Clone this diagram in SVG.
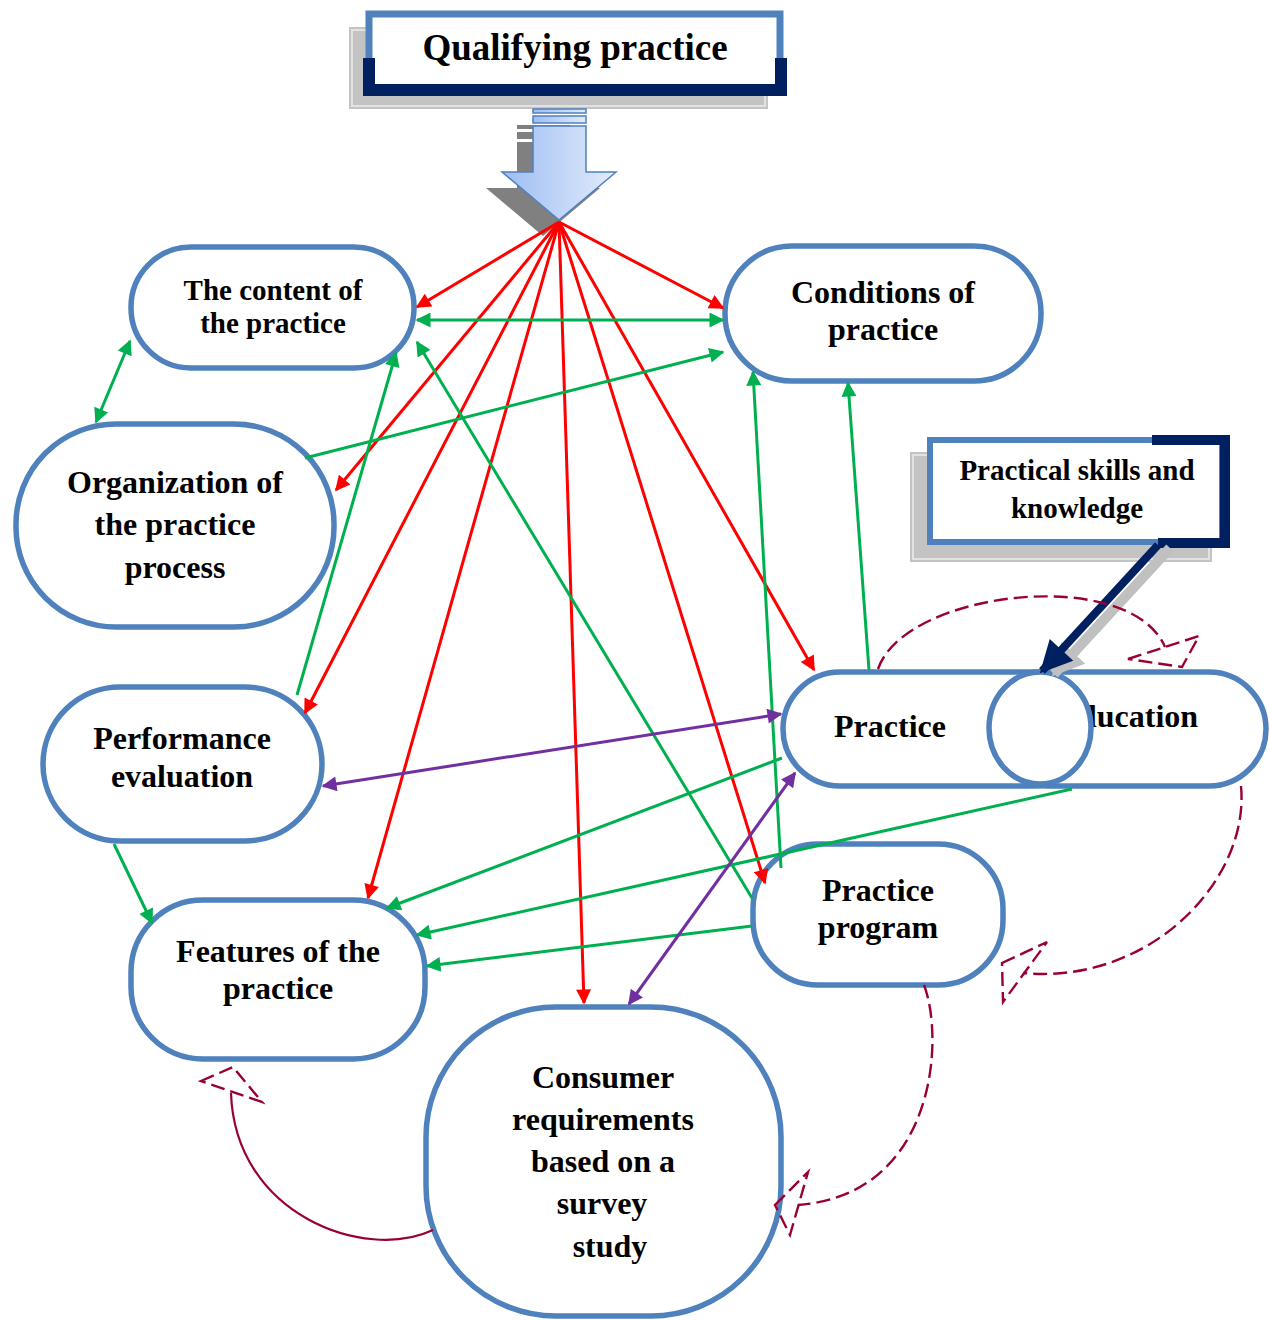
<svg xmlns="http://www.w3.org/2000/svg" width="1269" height="1320" viewBox="0 0 1269 1320">
<style>
.nd{fill:#fff;stroke:#4f81bd;stroke-width:5.5}
.tx{font-family:"Liberation Serif","Times New Roman",serif;font-weight:bold;fill:#000;text-anchor:middle}
.f32{font-size:32px}
.f29{font-size:29px}
.r{stroke:#ff0000;stroke-width:3;fill:none;marker-end:url(#mr)}
.g{stroke:#00b050;stroke-width:3;fill:none;marker-end:url(#mg)}
.gd{stroke:#00b050;stroke-width:3;fill:none;marker-end:url(#mg);marker-start:url(#mg)}
.p{stroke:#7030a0;stroke-width:3;fill:none;marker-end:url(#mp);marker-start:url(#mp)}
.dc{stroke:#990033;stroke-width:2.4;fill:none;stroke-dasharray:14 6}
.sc{stroke:#990033;stroke-width:2.2;fill:none}
.sh{fill:#c3c3c3}
.shi{fill:none;stroke:#e2e2e2;stroke-width:2}
</style>
<defs>
<marker id="mr" viewBox="0 0 10 10" refX="9" refY="5" markerWidth="6" markerHeight="5" orient="auto-start-reverse" markerUnits="strokeWidth"><path d="M0,0 L10,5 L0,10 z" fill="#ff0000"/></marker>
<marker id="mg" viewBox="0 0 10 10" refX="9" refY="5" markerWidth="6" markerHeight="5" orient="auto-start-reverse" markerUnits="strokeWidth"><path d="M0,0 L10,5 L0,10 z" fill="#00b050"/></marker>
<marker id="mp" viewBox="0 0 10 10" refX="9" refY="5" markerWidth="6" markerHeight="5" orient="auto-start-reverse" markerUnits="strokeWidth"><path d="M0,0 L10,5 L0,10 z" fill="#7030a0"/></marker>
<marker id="mn" viewBox="0 0 10 10" refX="9" refY="5" markerWidth="4.4" markerHeight="4" orient="auto" markerUnits="strokeWidth"><path d="M0,0 L10,5 L0,10 z" fill="#002060"/></marker>
<marker id="mgr" viewBox="0 0 10 10" refX="9" refY="5" markerWidth="3.4" markerHeight="3.2" orient="auto" markerUnits="strokeWidth"><path d="M0,0 L10,5 L0,10 z" fill="#c0c0c0"/></marker>
<linearGradient id="ag" x1="0" y1="0" x2="1" y2="0"><stop offset="0" stop-color="#9dbdf2"/><stop offset="1" stop-color="#e2ecfb"/></linearGradient>
</defs>

<g id="title">
<rect class="sh" x="349" y="27" width="419" height="82"/>
<rect class="shi" x="352" y="30" width="413" height="76"/>
<rect x="369" y="14" width="411" height="76" fill="#fff" stroke="#4f81bd" stroke-width="7"/>
<path d="M369,58 V90 H781 V58" fill="none" stroke="#002060" stroke-width="12"/>
<text class="tx" x="575" y="60" font-size="37">Qualifying practice</text>
</g>

<g id="block-arrow">
<g transform="translate(-16,16)" fill="#808080">
<rect x="533" y="109" width="53" height="4"/>
<rect x="533" y="116" width="53" height="7"/>
<path d="M533,126 H586 V172 H616 L559,220 L502,172 H533 Z"/>
</g>
<g fill="url(#ag)" stroke="#4f81bd" stroke-width="1.5">
<rect x="533" y="109" width="53" height="4"/>
<rect x="533" y="116" width="53" height="7"/>
<path d="M533,126 H586 V172 H616 L559,220 L502,172 H533 Z"/>
</g>
</g>

<g id="skills">
<rect class="sh" x="910" y="452" width="302" height="110"/>
<rect class="shi" x="913" y="455" width="296" height="104"/>
<rect x="930" y="440" width="292" height="102" fill="#fff" stroke="#4f81bd" stroke-width="6"/>
<path d="M1152,440 H1225 V543 H1158" fill="none" stroke="#002060" stroke-width="10"/>
<text class="tx f29" x="1077" y="480">Practical skills and</text>
<text class="tx f29" x="1077" y="518">knowledge</text>
</g>

<g id="content">
<rect class="nd" x="131" y="247" width="283" height="121" rx="60"/>
<text class="tx f29" x="273" y="300">The content of</text>
<text class="tx f29" x="273" y="333">the practice</text>
</g>

<g id="conditions">
<rect class="nd" x="725" y="246" width="316" height="135" rx="67"/>
<text class="tx f32" x="883" y="303">Conditions of</text>
<text class="tx f32" x="883" y="340">practice</text>
</g>

<g id="organization">
<rect class="nd" x="16" y="424" width="318" height="203" rx="100"/>
<text class="tx f32" x="175" y="493">Organization of</text>
<text class="tx f32" x="175" y="535">the practice</text>
<text class="tx f32" x="175" y="578">process</text>
</g>

<g id="performance">
<rect class="nd" x="43" y="687" width="279" height="154" rx="77"/>
<text class="tx f32" x="182" y="749">Performance</text>
<text class="tx f32" x="182" y="787">evaluation</text>
</g>

<g id="features">
<rect class="nd" x="131" y="900" width="294" height="159" rx="72"/>
<text class="tx f32" x="278" y="962">Features of the</text>
<text class="tx f32" x="278" y="999">practice</text>
</g>

<g id="consumer">
<rect class="nd" x="426" y="1007" width="355" height="309" rx="130"/>
<text class="tx f32" x="603" y="1088">Consumer</text>
<text class="tx f32" x="603" y="1130">requirements</text>
<text class="tx f32" x="603" y="1172">based on a</text>
<text class="tx f32" x="602" y="1214">survey</text>
<text class="tx f32" x="610" y="1257">study</text>
</g>

<g id="program">
<rect class="nd" x="753" y="844" width="250" height="141" rx="65"/>
<text class="tx f32" x="878" y="901">Practice</text>
<text class="tx f32" x="878" y="938">program</text>
</g>

<g id="practice">
<rect class="nd" x="783" y="672" width="308" height="114" rx="57"/>
<text class="tx f32" x="890" y="737">Practice</text>
</g>

<g id="education">
<rect class="nd" x="990" y="672" width="276" height="114" rx="57"/>
<text class="tx f32" x="1143" y="727">lucation</text>
</g>

<g id="joint">
<ellipse class="nd" cx="1040" cy="728" rx="51" ry="56"/>
</g>

<g id="connectors">
<path class="r" d="M559,222 L417,307"/>
<path class="r" d="M559,222 L723,308"/>
<path class="r" d="M559,222 L336,490"/>
<path class="r" d="M559,222 L305,713"/>
<path class="r" d="M559,222 L368,898"/>
<path class="r" d="M559,222 L584,1003"/>
<path class="r" d="M559,222 L765,883"/>
<path class="r" d="M559,222 L814,670"/>
<path class="gd" d="M417,320 L723,320"/>
<path class="gd" d="M130,341 L96,422"/>
<path class="g" d="M305,458 L723,352"/>
<path class="g" d="M297,695 L396,353"/>
<path class="g" d="M752,898 L417,342"/>
<path class="g" d="M781,868 L753,372"/>
<path class="g" d="M869,670 L848,383"/>
<path class="g" d="M114,844 L152,923"/>
<path class="g" d="M782,758 L387,908"/>
<path class="g" d="M1072,789 L417,935"/>
<path class="g" d="M752,926 L427,966"/>
<path class="p" d="M781,714 L323,786"/>
<path class="p" d="M795,773 L629,1004"/>
<path d="M1170,548 L1054,674" stroke="#c0c0c0" stroke-width="10" fill="none" marker-end="url(#mgr)"/>
<path d="M1158,545 L1042,671" stroke="#002060" stroke-width="8" fill="none" marker-end="url(#mn)"/>
<path class="dc" d="M878,669 C905,590 1130,565 1165,647"/>
<polygon class="dc" points="1128,659 1199,636 1182,667"/>
<path class="dc" d="M1241,786 C1250,880 1150,985 1023,973"/>
<polygon class="dc" points="1002,963 1047,942 1003,1002"/>
<path class="dc" d="M924,985 C945,1040 935,1195 798,1205"/>
<polygon class="dc" points="775,1205 808,1172 790,1235"/>
<path class="sc" d="M433,1230 C365,1262 235,1215 231,1093"/>
<polygon class="dc" points="201,1081 233,1067 262,1102"/>
</g>
</svg>
